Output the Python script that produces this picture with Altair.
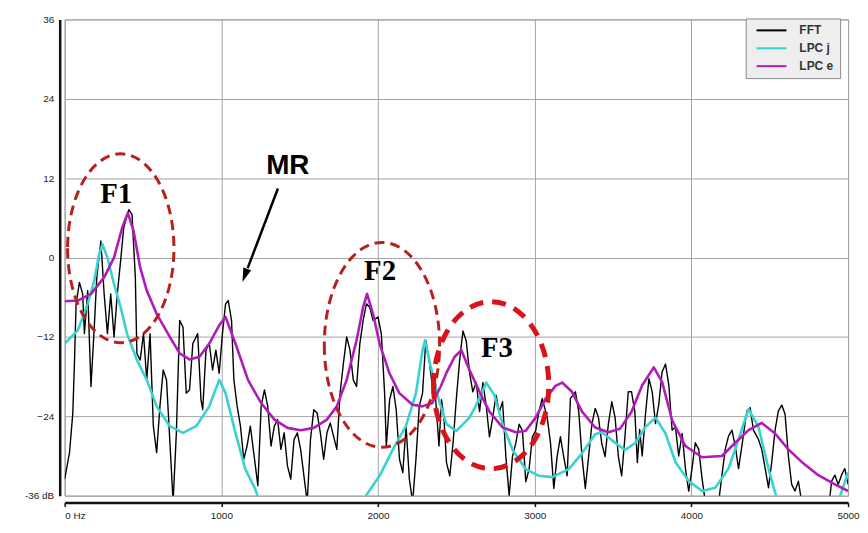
import altair as alt
import pandas as pd

# ---------------- data ----------------
fft_hz = [0, 31, 52, 63, 73, 94, 115, 126, 147, 168, 189, 205, 231, 252, 273, 294, 315, 336, 357, 377,
          409, 430, 451, 461, 482, 503, 524, 545, 566, 587, 608, 629, 650, 681, 692, 713, 734, 755, 776, 797,
          818, 849, 870, 881, 902, 923, 944, 965, 986, 1007, 1027, 1044, 1065, 1080, 1101, 1122, 1143, 1164,
          1185, 1212, 1233, 1254, 1275, 1296, 1317, 1338, 1359, 1380, 1401, 1422, 1443, 1464, 1485, 1506,
          1527, 1548, 1569, 1590, 1611, 1632, 1653, 1674, 1695, 1716, 1737, 1758, 1779, 1800, 1821, 1842,
          1863, 1884, 1905, 1926, 1947, 1968, 2000, 2021, 2042, 2053, 2074, 2095, 2116, 2137, 2158, 2179,
          2200, 2221, 2242, 2263, 2284, 2305, 2326, 2347, 2368, 2389, 2405, 2420, 2437, 2458, 2479, 2500,
          2521, 2542, 2563, 2584, 2605, 2627, 2648, 2669, 2690, 2711, 2732, 2753, 2774, 2795, 2816, 2837,
          2858, 2879, 2901, 2922, 2943, 2964, 2985, 3006, 3027, 3048, 3080, 3101, 3122, 3143, 3164, 3185,
          3207, 3228, 3260, 3281, 3302, 3323, 3344, 3365, 3386, 3407, 3428, 3449, 3470, 3492, 3513, 3534,
          3555, 3576, 3597, 3618, 3639, 3655, 3670, 3686, 3707, 3729, 3750, 3771, 3792, 3813, 3835, 3856,
          3877, 3898, 3919, 3941, 3962, 3983, 4004, 4025, 4047, 4068, 4089, 4110, 4174, 4195, 4216, 4237,
          4259, 4280, 4301, 4322, 4354, 4375, 4396, 4428, 4449, 4471, 4492, 4513, 4534, 4555, 4577, 4598,
          4619, 4640, 4661, 4683, 4704, 4880, 4895, 4916, 4937, 4958, 4979, 5000]
fft_db = [-33.5, -29.5, -23.5, -15.5, -7, -3.75, -5.5, -11.5, -5, -19.5, -10.5, -3, 2.5, -5.5, -11.5, -5.5, -12, -5.5, -0.5, 4.5,
          7.25, 6.5, -3, -14.5, -15.5, -11.5, -18.5, -11.5, -25.5, -29.5, -22.5, -17, -18.5, -32, -37, -26.5, -9.5, -10.5, -20.5, -20,
          -13, -11.5, -21.5, -23, -14, -13, -17, -14, -17.5, -11.5, -7, -6.5, -9.5, -18.5, -22.5, -25.5, -30.5, -28.5,
          -25.5, -30.5, -34.5, -22.5, -20, -22.5, -28.5, -25.5, -24.5, -29, -26.5, -31.5, -33.5, -27.5, -26.5, -29,
          -33, -37, -27.5, -23, -23.5, -26.5, -30.5, -26.5, -25, -27, -29, -20.5, -16, -12, -14, -18.5,
          -19.5, -13, -9.5, -7, -7.5, -9.5, -9, -11.5, -20.5, -28.5, -21.5, -19.5, -23, -30.5, -32.5, -25.5,
          -33.5, -37, -30.5, -22.5, -20.5, -12.5, -15.5, -19.5, -21.5, -28.5, -21.5, -24, -31, -33, -28, -21.3,
          -15.5, -11.1, -12.6, -17.4, -20.3, -18.9, -23.3, -18.9, -22.3, -27.1, -24.2, -20.8, -23.3, -21.8, -30.1, -36,
          -30.1, -28.1, -25.2, -26.2, -33.9, -32, -27.1, -26.2, -23.3, -21.3, -24.2, -28.1, -34.9, -30.1, -27.1, -30.1,
          -33, -21.3, -20.3, -23.3, -30.1, -34.9, -30.1, -25.2, -22.8, -24.2, -28.1, -30.1, -25.2, -21.8, -24.2, -30.1,
          -33, -27.1, -20.3, -20.3, -23.3, -31, -26, -30, -23.7, -18.3, -20.3, -25.1, -22.2, -17.3, -16.1, -19.3,
          -26.1, -25.6, -30, -26.6, -31.9, -35.3, -31.9, -28, -29, -33.4, -37, -37, -37, -32.9, -29, -27,
          -26.1, -28.5, -31.9, -28.5, -23.2, -22.7, -26.1, -27.5, -29, -31.9, -34.8, -30.9, -26.1, -23.2, -22.3, -23.7,
          -30, -34.3, -35.3, -33.8, -37, -37, -33.8, -32.9, -34.3, -32.9, -31.9, -34.3]

lpcj_hz = [0, 84, 147, 189, 220, 241, 273, 315, 357, 398, 461, 524, 587, 671, 755, 839, 923, 986, 1027, 1090,
           1153, 1216, 1260, 1300, 1850, 1900, 1916, 2010, 2095, 2178, 2242, 2284, 2300, 2336, 2388, 2437, 2500,
           2584, 2648, 2690, 2743, 2795, 2859, 2943, 3027, 3112, 3217, 3302, 3386, 3428, 3492, 3576, 3644, 3707,
           3771, 3835, 3898, 3983, 4068, 4153, 4237, 4301, 4365, 4428, 4492, 4534, 4570, 4600, 4900, 4950, 5000]
lpcj_db = [-13, -11, -7, -3.5, 0.5, 2, 0, -4, -7.5, -11.5, -15.5, -18.5, -22.5, -25.5, -26.5, -25.5, -22.5, -18.5, -20.5, -26.5,
           -32, -35, -38, -45, -45, -38, -36.25, -33, -29, -25.5, -20.5, -14, -12.5, -16.5, -21.5, -25.2, -26.2,
           -24.2, -21.3, -18.9, -20.8, -25.2, -29.1, -32, -33, -33.2, -32, -29.6, -26.7, -26.4, -27.6, -29.1, -28, -25.6,
           -24.2, -26.6, -30.9, -33.8, -35.3, -34.8, -31.9, -27.5, -22.9, -25.6, -31.9, -35.5, -38, -42, -42, -36, -32.5]

lpce_hz = [0, 84, 168, 252, 315, 367, 403, 440, 482, 524, 587, 671, 734, 797, 860, 923, 986, 1027, 1090, 1170,
           1254, 1339, 1422, 1506, 1590, 1674, 1737, 1800, 1863, 1905, 1930, 1968, 2010, 2073, 2136, 2220, 2283,
           2346, 2400, 2437, 2489, 2532, 2584, 2648, 2711, 2795, 2880, 2943, 3006, 3070, 3133, 3175, 3238, 3302,
           3386, 3470, 3544, 3618, 3686, 3760, 3813, 3877, 3962, 4068, 4195, 4280, 4365, 4449, 4534, 4619, 4704,
           4810, 4916, 5000]
lpce_db = [-6.6, -6.5, -5.5, -3, 0, 4.5, 6.75, 4, -1.5, -5, -8.5, -12, -14.5, -15.4, -15, -13, -10.25, -9, -13, -18.5,
           -22, -24.5, -25.75, -26.1, -25.75, -24.5, -22.5, -18.5, -12.5, -7.5, -5.5, -8.5, -13, -17.5, -20.5, -22.25, -22.5,
           -22, -19.5, -17.4, -15, -14, -17, -20.3, -23.3, -25.7, -26.4, -26.2, -24.2, -21.3, -19.4, -18.9, -20.3, -23.3,
           -25.7, -26.4, -25.9, -23.3, -19.3, -16.6, -18.8, -24.6, -28.5, -30.2, -30, -28, -26.1, -25, -26.6, -29, -30.9,
           -32.9, -34.3, -35.3]

series_names = ["FFT", "LPC j", "LPC e"]
series_colors = ["#000000", "#38d2d2", "#b01cb8"]

x_ticks = [0, 1000, 2000, 3000, 4000, 5000]
y_ticks = [-36, -24, -12, 0, 12, 24, 36]

# annotations
label_text = ["F1", "F2", "F3"]
label_hz = [329, 2013, 2759]
label_db = [8.3, -3.4, -15.1]
mr_text = ["MR"]
mr_hz = [1424]
mr_db = [12.7]
ellipse_hz = [358, 2025, 2722]
ellipse_db = [1.4, -13.2, -19.3]
arrow_hz = [1361, 1168]
arrow_db = [10.45, -1.6]
arrow_tip_hz = [1150]
arrow_tip_db = [-2.7]

# ---------------- build tables ----------------
rows = []
for name, hz, db in [("FFT", fft_hz, fft_db), ("LPC j", lpcj_hz, lpcj_db), ("LPC e", lpce_hz, lpce_db)]:
    for h, d in zip(hz, db):
        rows.append({"hz": h, "db": d, "series": name})
df = pd.DataFrame(rows)

xscale = alt.Scale(domain=[0, 5000], nice=False, zero=False)
yscale = alt.Scale(domain=[-36, 36], nice=False, zero=False)

x_axis = alt.Axis(values=x_ticks, labelExpr="datum.value == 0 ? '0 Hz' : datum.label",
                  title=None, grid=True, gridColor="#a3a3a3", gridWidth=1,
                  domainColor="#111", domainWidth=2.5, offset=7,
                  ticks=True, tickColor="#111", tickSize=4, tickWidth=1.5,
                  labelFont="Liberation Sans", labelFontSize=10, labelColor="#222",
                  labelPadding=4, format="d", labelFlush=False,
                  labelAlign={"condition": {"test": "datum.value == 0", "value": "left"}, "value": "center"})
y_axis = alt.Axis(values=y_ticks, labelExpr="datum.value == -36 ? '-36 dB' : datum.label",
                  title=None, grid=True, gridColor="#a3a3a3", gridWidth=1,
                  domainColor="#111", domainWidth=2.5, offset=5,
                  ticks=False, labelFont="Liberation Sans", labelFontSize=10, labelColor="#222",
                  labelPadding=6, format="d")

color = alt.Color("series:N",
                  scale=alt.Scale(domain=series_names, range=series_colors),
                  legend=alt.Legend(orient="none", legendX=685, legendY=-1, title=None,
                                    fillColor="#eeeeee", strokeColor="#8a8a8a",
                                    padding=6, symbolType="M -3 0 L 3 0", symbolSize=100,
                                    symbolStrokeWidth=2, symbolOffset=14, labelOffset=22,
                                    labelFont="Liberation Sans", labelFontSize=12,
                                    labelFontWeight="bold", labelColor="#333",
                                    labelExpr="datum.label + '        '",
                                    rowPadding=6, labelLimit=120))

base = alt.Chart(df).encode(
    x=alt.X("hz:Q", scale=xscale, axis=x_axis),
    y=alt.Y("db:Q", scale=yscale, axis=y_axis),
    color=color,
)

layers = []
for name, w in zip(series_names, [1.4, 2.6, 2.6]):
    layers.append(base.transform_filter(alt.datum.series == name)
                  .mark_line(strokeWidth=w, clip=True, strokeJoin="round"))

# ellipses (dashed)
ell_specs = [
    ("M -0.563 0 A 0.563 1 0 1 0 0.563 0 A 0.563 1 0 1 0 -0.563 0 Z", 190, "#b8201e", 3, [10, 6]),
    ("M -0.563 0 A 0.563 1 0 1 0 0.563 0 A 0.563 1 0 1 0 -0.563 0 Z", 206, "#b8201e", 3, [10, 6]),
    ("M -0.69 0 A 0.69 1 0 1 0 0.69 0 A 0.69 1 0 1 0 -0.69 0 Z", 168, "#d8141a", 5, [14, 9]),
]
for i, (path, h, col, sw, dash) in enumerate(ell_specs):
    edf = pd.DataFrame({"hz": [ellipse_hz[i]], "db": [ellipse_db[i]]})
    layers.append(alt.Chart(edf).mark_point(shape=path, size=h * h, filled=False, color=col,
                                             strokeWidth=sw, strokeDash=dash, opacity=1)
                  .encode(x=alt.X("hz:Q", scale=xscale), y=alt.Y("db:Q", scale=yscale)))

# labels
ldf = pd.DataFrame({"hz": label_hz, "db": label_db, "t": label_text})
layers.append(alt.Chart(ldf).mark_text(font="Liberation Serif", fontWeight="bold", fontSize=29,
                                       baseline="alphabetic", align="center", color="black")
              .encode(x=alt.X("hz:Q", scale=xscale), y=alt.Y("db:Q", scale=yscale), text="t:N"))
mdf = pd.DataFrame({"hz": mr_hz, "db": mr_db, "t": mr_text})
layers.append(alt.Chart(mdf).mark_text(font="Liberation Sans", fontWeight="bold", fontSize=28,
                                       baseline="alphabetic", align="center", color="black")
              .encode(x=alt.X("hz:Q", scale=xscale), y=alt.Y("db:Q", scale=yscale), text="t:N"))

# arrow
adf = pd.DataFrame({"hz": [arrow_hz[0]], "db": [arrow_db[0]], "hz2": [arrow_hz[1]], "db2": [arrow_db[1]]})
layers.append(alt.Chart(adf).mark_rule(color="black", strokeWidth=2.5)
              .encode(x=alt.X("hz:Q", scale=xscale), y=alt.Y("db:Q", scale=yscale),
                      x2="hz2:Q", y2="db2:Q"))
tdf = pd.DataFrame({"hz": arrow_tip_hz, "db": arrow_tip_db})
layers.append(alt.Chart(tdf).mark_point(shape="M 0 -1 L 0.6 1 L -0.6 1 Z", size=196, filled=True,
                                         color="black", angle=200, opacity=1)
              .encode(x=alt.X("hz:Q", scale=xscale), y=alt.Y("db:Q", scale=yscale)))

chart = alt.layer(*layers).properties(
    width=788, height=479,
    autosize=alt.AutoSizeParams(type="none"),
    padding={"left": 57, "top": 10, "right": 12, "bottom": 28},
    background="white",
).configure_view(stroke="#9a9a9a", strokeWidth=1)

chart.save("out.html", embed_options={"renderer": "svg", "actions": False})
